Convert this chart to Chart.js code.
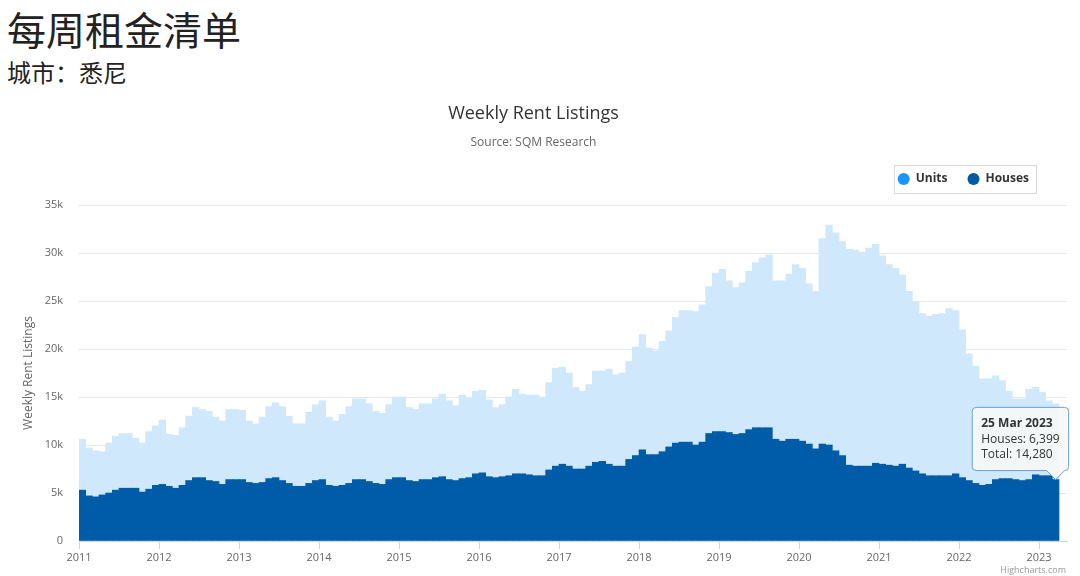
<!DOCTYPE html>
<html>
<head>
<meta charset="utf-8">
<title>每周租金清单</title>
<script src="https://cdn.jsdelivr.net/npm/chart.js@4/dist/chart.umd.min.js"></script>
<style>
  body { margin: 0; background: #fff; }
  .head { position: absolute; left: 7px; margin: 0; font-family: "Noto Sans CJK SC", sans-serif; font-weight: normal; line-height: 1; color: #222; }
  #title { top: 9px; font-size: 39px; }
  #city { top: 60px; font-size: 24px; }
  #wrap { position: absolute; left: 0; top: 95px; width: 1080px; height: 481px; }
</style>
</head>
<body>
<h1 class="head" id="title">每周租金清单</h1>
<h2 class="head" id="city">城市：悉尼</h2>
<div id="wrap"><canvas id="rentChart"></canvas></div>
<script>
// monthly listings, Jan 2011 - Mar 2023
var startYear = 2011;
var years = [2011, 2012, 2013, 2014, 2015, 2016, 2017, 2018, 2019, 2020, 2021, 2022, 2023];
var seriesNames = ['Houses', 'Units'];
var houses = [
    5300, 4700, 4600, 4800, 5000, 5300, 5500, 5500, 5500, 5100, 5400, 5800,
    5900, 5700, 5500, 5800, 6300, 6600, 6600, 6300, 6200, 5900, 6400, 6400,
    6400, 6100, 6000, 6100, 6500, 6600, 6300, 6000, 5700, 5700, 6000, 6300,
    6400, 5800, 5700, 5800, 6000, 6400, 6400, 6200, 6000, 5900, 6400, 6600,
    6600, 6300, 6200, 6400, 6400, 6600, 6700, 6400, 6300, 6500, 6600, 7000,
    7100, 6700, 6600, 6700, 6800, 7000, 7000, 6900, 6800, 6800, 7400, 7800,
    8000, 7800, 7500, 7500, 7800, 8200, 8300, 8000, 7800, 7800, 8500, 8900,
    9500, 9000, 9000, 9300, 9800, 10200, 10300, 10300, 10000, 10300, 11200, 11400,
    11400, 11300, 11100, 11200, 11600, 11800, 11800, 11800, 10600, 10400, 10600, 10600,
    10400, 10100, 9600, 10100, 10000, 9400, 8900, 7900, 7800, 7800, 7800, 8100,
    8000, 7900, 7800, 8000, 7600, 7300, 7000, 6800, 6800, 6800, 6800, 7000,
    6600, 6300, 6000, 5800, 5900, 6400, 6500, 6500, 6400, 6300, 6400, 6900,
    6800, 6800, 6399
];
var units = [
    5300, 5000, 4800, 4500, 5200, 5600, 5700, 5700, 5200, 5100, 6000, 6200,
    6700, 5400, 5500, 6000, 6700, 7300, 7100, 7200, 6700, 6600, 7300, 7300,
    7200, 6400, 6200, 6800, 7500, 7800, 7700, 7000, 6500, 6500, 7400, 7900,
    8200, 7100, 6800, 7400, 8000, 8400, 8400, 8100, 7500, 7400, 7800, 8400,
    8400, 7600, 7500, 7900, 7900, 8200, 8600, 8200, 7800, 8700, 8300, 8600,
    8600, 8000, 7300, 7500, 8200, 8800, 8300, 8300, 8400, 8200, 9100, 10200,
    10100, 9700, 8500, 8100, 8500, 9500, 9400, 9900, 9500, 9700, 10200, 11300,
    12000, 11100, 10800, 11500, 12100, 13100, 13700, 13700, 13900, 14300, 15300, 16500,
    16900, 15800, 15300, 15700, 16500, 17200, 17700, 18000, 16500, 16700, 17200, 18200,
    18000, 16700, 16400, 21400, 22900, 22700, 22300, 22500, 22500, 22300, 22700, 22800,
    21700, 20900, 20600, 19700, 18400, 17600, 16700, 16600, 16800, 16900, 17400, 17000,
    15400, 13200, 12200, 11100, 11000, 10800, 10200, 9100, 8400, 8500, 9400, 9100,
    8700, 7800, 7881
];
var tooltipDate = '25 Mar 2023';

var markerColors = { 'Houses': '#0059a3', 'Units': '#1a94ff' };
var font = '"Open Sans", sans-serif';
Chart.defaults.font.family = font;

function monthX(i) {
    return startYear + (i + 0.5) / 12;
}

function toPoints(values) {
    return values.map(function(v, i) { return { x: monthX(i), y: v }; });
}

var extras = {
    id: 'extras',
    afterInit: function(chart) {
        // leave a gap under the legend like the original
        var lg = chart.legend;
        var fit = lg.fit;
        lg.fit = function() {
            fit.call(this);
            this.height += 10;
        };
    },
    afterLayout: function(chart) {
        chart.legend.left -= 18;
        chart.legend.right -= 18;
    },
    afterDraw: function(chart) {
        var ctx = chart.ctx;
        var boxes = chart.legend.legendHitBoxes;
        var x0 = Math.min.apply(null, boxes.map(function(b) { return b.left; })) - 4;
        var x1 = Math.max.apply(null, boxes.map(function(b) { return b.left + b.width; })) + 7;
        var y0 = boxes[0].top - 8;
        var y1 = boxes[0].top + boxes[0].height + 8;
        ctx.save();
        ctx.strokeStyle = '#d8d8d8';
        ctx.lineWidth = 1;
        ctx.strokeRect(Math.round(x0) + 0.5, Math.round(y0) + 0.5, Math.round(x1 - x0), Math.round(y1 - y0));
        ctx.font = '9px ' + font;
        ctx.fillStyle = '#999';
        ctx.textAlign = 'right';
        ctx.textBaseline = 'middle';
        ctx.fillText('Highcharts.com', 1066, chart.height - 6);
        ctx.restore();
    }
};

var ctx = document.getElementById('rentChart').getContext('2d');
var rentChart = new Chart(ctx, {
    type: 'bar',
    data: {
        datasets: [{
            label: seriesNames[0],
            data: toPoints(houses),
            backgroundColor: '#005ca8',
            borderWidth: 0,
            categoryPercentage: 1,
            barPercentage: 1
        }, {
            label: seriesNames[1],
            data: toPoints(units),
            backgroundColor: '#cfe8fc',
            borderWidth: 0,
            categoryPercentage: 1,
            barPercentage: 1
        }]
    },
    options: {
        responsive: true,
        maintainAspectRatio: false,
        animation: false,
        events: [],
        layout: { padding: { left: 0, right: 13, top: 0, bottom: 0 } },
        scales: {
            x: {
                type: 'linear',
                stacked: true,
                offset: false,
                min: 2011,
                max: 2023.35,
                afterBuildTicks: function(scale) {
                    scale.ticks = years.map(function(y) { return { value: y }; });
                },
                ticks: {
                    color: '#666',
                    font: { size: 11 },
                    padding: 2,
                    maxRotation: 0,
                    autoSkip: false,
                    callback: function(v) { return String(v); }
                },
                grid: { drawOnChartArea: false, offset: false, color: '#ccd6eb', tickLength: 8 },
                border: { color: '#ccd6eb' },
                afterFit: function(scale) { scale.height = 35; }
            },
            y: {
                stacked: true,
                min: 0,
                max: 35000,
                ticks: {
                    stepSize: 5000,
                    color: '#666',
                    font: { size: 11 },
                    padding: 16,
                    callback: function(v) { return v === 0 ? '0' : (v / 1000) + 'k'; }
                },
                grid: { color: '#e6e6e6', drawTicks: false },
                border: { display: false },
                title: {
                    display: true,
                    text: 'Weekly Rent Listings',
                    color: '#666',
                    font: { size: 12 },
                    padding: { top: 21, bottom: 0 }
                },
                afterFit: function(scale) { scale.width = 79; }
            }
        },
        plugins: {
            title: {
                display: true,
                text: 'Weekly Rent Listings',
                color: '#333',
                font: { size: 18, weight: 'normal' },
                padding: { top: 8, bottom: 11 }
            },
            subtitle: {
                display: true,
                text: 'Source: SQM Research',
                color: '#666',
                font: { size: 12 },
                padding: { top: 0, bottom: 3 }
            },
            legend: {
                position: 'top',
                align: 'end',
                reverse: true,
                labels: {
                    usePointStyle: true,
                    pointStyle: 'circle',
                    boxWidth: 12,
                    boxHeight: 8.5,
                    padding: 20,
                    color: '#333',
                    font: { size: 12, weight: 'bold' },
                    generateLabels: function(chart) {
                        return Chart.defaults.plugins.legend.labels.generateLabels(chart).map(function(item) {
                            item.fillStyle = markerColors[item.text];
                            item.strokeStyle = markerColors[item.text];
                            item.lineWidth = 0;
                            return item;
                        });
                    }
                }
            },
            tooltip: {
                enabled: true,
                xAlign: 'right',
                yAlign: 'bottom',
                backgroundColor: 'rgba(247,247,247,0.92)',
                borderColor: '#6a9fd8',
                borderWidth: 1,
                cornerRadius: 4,
                caretSize: 9,
                caretPadding: 0,
                padding: { top: 9, bottom: 9, left: 9, right: 9 },
                displayColors: false,
                titleColor: '#333',
                bodyColor: '#333',
                footerColor: '#333',
                titleFont: { size: 12, weight: 'bold' },
                bodyFont: { size: 12 },
                footerFont: { size: 12, weight: 'normal' },
                titleMarginBottom: 2,
                bodySpacing: 0,
                footerMarginTop: 0,
                callbacks: {
                    title: function() { return tooltipDate; },
                    label: function(c) { return 'Houses: ' + c.parsed.y.toLocaleString('en-US'); },
                    footer: function(items) {
                        var i = items[0].dataIndex;
                        return 'Total: ' + (houses[i] + units[i]).toLocaleString('en-US');
                    }
                }
            }
        }
    },
    plugins: [extras]
});

rentChart.tooltip.setActiveElements([{ datasetIndex: 0, index: houses.length - 1 }], { x: 0, y: 0 });
rentChart.update();
</script>
</body>
</html>
